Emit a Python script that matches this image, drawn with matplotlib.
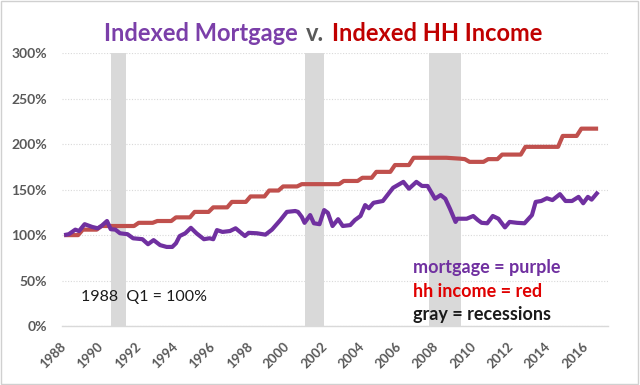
import matplotlib
matplotlib.use('Agg')
import matplotlib.pyplot as plt
from matplotlib.offsetbox import TextArea, HPacker, AnnotationBbox
from matplotlib.patches import Rectangle
from matplotlib.ticker import FuncFormatter

plt.rcParams['font.family'] = ['Lato', 'DejaVu Sans']

# Indexed mortgage (1988 Q1 = 100%)
mort_years = [1988.0, 1988.25, 1988.6, 1988.8, 1989.1, 1989.5, 1989.8, 1990.0, 1990.3, 1990.5,
              1990.75, 1991.0, 1991.4, 1991.7, 1992.2, 1992.5, 1992.8, 1993.15, 1993.5, 1993.8,
              1994.0, 1994.2, 1994.5, 1994.8, 1995.1, 1995.5, 1995.8, 1996.0, 1996.2, 1996.5,
              1996.9, 1997.2, 1997.7, 1997.9, 1998.35, 1998.8, 1999.15, 1999.6, 1999.95, 2000.4,
              2000.55, 2000.75, 2000.9, 2001.2, 2001.4, 2001.7, 2001.95, 2002.15, 2002.4, 2002.7,
              2002.95, 2003.35, 2003.6, 2003.9, 2004.15, 2004.35, 2004.6, 2004.85, 2005.1, 2005.65,
              2006.2, 2006.5, 2006.9, 2007.2, 2007.5, 2007.9, 2008.2, 2008.45, 2008.7, 2009.0,
              2009.1, 2009.6, 2009.95, 2010.2, 2010.4, 2010.7, 2011.0, 2011.3, 2011.65, 2011.9,
              2012.3, 2012.7, 2013.1, 2013.3, 2013.6, 2013.9, 2014.2, 2014.6, 2014.9, 2015.25,
              2015.6, 2015.85, 2016.1, 2016.3, 2016.65]
mort_vals = [100, 101, 106, 104.5, 112, 109, 107.5, 110, 115.5, 106.5,
             106, 102, 101, 96.5, 95.5, 90, 94.5, 89, 87, 87,
             91, 99, 102, 108, 102, 95.5, 96.5, 95.5, 105.5, 103.5,
             104.5, 107.5, 99, 102.5, 102, 100.5, 106, 116.5, 125.5, 126.5,
             125.5, 120, 113.5, 122, 113, 112, 127.5, 124.5, 110, 117.5,
             110, 111, 116.5, 121, 133, 129.5, 135.5, 136.5, 137.5, 152,
             158.5, 151, 158.5, 154, 154, 140, 144, 140, 129, 114.5,
             118, 118, 121, 116.5, 113.5, 113, 121, 118, 108.5, 114.5,
             113.5, 113, 122, 136.5, 137.5, 140.5, 138.5, 145, 137.5, 137.5,
             142, 135, 142, 139, 147.5]

# Indexed household income (steps)
inc_years = [1988.0, 1988.75, 1989.0, 1989.75, 1990.0, 1991.75, 1992.0, 1992.75, 1993.0, 1993.75,
             1994.0, 1994.75, 1995.0, 1995.75, 1996.0, 1996.75, 1997.0, 1997.75, 1998.0, 1998.75,
             1999.0, 1999.5, 1999.75, 2000.5, 2000.75, 2002.75, 2003.0, 2003.75, 2004.0, 2004.5,
             2004.75, 2005.5, 2005.75, 2006.5, 2006.75, 2008.5, 2009.25, 2009.5, 2009.75, 2010.5,
             2010.75, 2011.25, 2011.5, 2012.5, 2012.75, 2014.5, 2014.75, 2015.5, 2015.75, 2016.65]
inc_vals = [100, 100, 106, 106, 110, 110, 113.5, 113.5, 115.5, 115.5,
            119.5, 119.5, 125.5, 125.5, 130.5, 130.5, 136.5, 136.5, 142.5, 142.5,
            149, 149, 153.5, 153.5, 156, 156, 159.5, 159.5, 163, 163,
            169.5, 169.5, 177, 177, 185, 185, 184, 183.5, 180.5, 180.5,
            183.5, 183.5, 188.5, 188.5, 197, 197, 209, 209, 217, 217]

recessions = [(1990.5, 1991.3), (2000.95, 2001.95), (2007.6, 2009.3)]
year_ticks = list(range(1988, 2017, 2))

purple = '#7030A0'
red_line = '#C0504D'
gray_txt = '#595959'

fig = plt.figure(figsize=(6.4, 3.85), dpi=100)
ax = fig.add_axes([0.097, 0.153, 0.853, 0.709])

for start, end in recessions:
    ax.axvspan(start, end, color='#D9D9D9', lw=0, zorder=1)

ax.plot(inc_years, inc_vals, color=red_line, lw=3, zorder=3, solid_capstyle='butt')
ax.plot(mort_years, mort_vals, color=purple, lw=3, zorder=4, solid_capstyle='butt')

ax.set_xlim(1987.89, 2017.18)
ax.set_ylim(0, 300)
ax.set_yticks(range(0, 301, 50))
ax.yaxis.set_major_formatter(FuncFormatter(lambda v, p: f'{v:.0f}%'))
ax.set_xticks(year_ticks)
ax.set_xticklabels([str(y) for y in year_ticks], rotation=45, ha='right', va='center',
                   rotation_mode='anchor')
ax.tick_params(axis='x', length=0, pad=13, labelsize=9.5, labelcolor=gray_txt)
ax.tick_params(axis='y', length=0, pad=11, labelsize=10, labelcolor=gray_txt)
for lab in ax.get_xticklabels() + ax.get_yticklabels():
    lab.set_fontweight('bold')

ax.grid(axis='y', color='#D9D9D9', linestyle=(0, (1, 1.5)), lw=0.8, zorder=0)
for s in ['left', 'right', 'top']:
    ax.spines[s].set_visible(False)
ax.spines['bottom'].set_color('#D9D9D9')
ax.spines['bottom'].set_linewidth(1)

# multi-coloured title
parts = [TextArea('Indexed Mortgage', textprops=dict(color='#7B3FA9', fontsize=17, fontweight='bold')),
         TextArea('v.', textprops=dict(color=gray_txt, fontsize=17, fontweight='bold')),
         TextArea('Indexed HH Income', textprops=dict(color='#C00000', fontsize=17, fontweight='bold'))]
title_box = HPacker(children=parts, align='baseline', pad=0, sep=6)
fig.add_artist(AnnotationBbox(title_box, (0.505, 0.914), xycoords='figure fraction',
                              frameon=False, box_alignment=(0.5, 0.5)))

fig.text(0.126, 0.229, '1988  Q1 = 100%', fontsize=11.5, color='#1a1a1a', va='center')
fig.text(0.645, 0.306, 'mortgage = purple', fontsize=13, color=purple, fontweight='bold', va='center')
fig.text(0.645, 0.244, 'hh income = red', fontsize=13, color='#E00000', fontweight='bold', va='center')
fig.text(0.645, 0.182, 'gray = recessions', fontsize=13, color='#1a1a1a', fontweight='bold', va='center')

fig.add_artist(Rectangle((0.002, 0.003), 0.995, 0.994, transform=fig.transFigure,
                         fill=False, edgecolor='#D0D0D0', lw=1))

fig.savefig('out.png', dpi=100)
